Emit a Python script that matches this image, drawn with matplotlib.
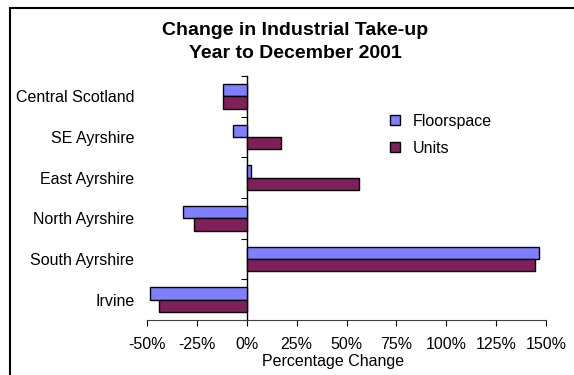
import matplotlib
matplotlib.use("Agg")
import matplotlib.pyplot as plt
from matplotlib.patches import Rectangle
from matplotlib.ticker import FuncFormatter
import numpy as np

plt.rcParams['font.family'] = ['Liberation Sans', 'DejaVu Sans']

categories = ["Central Scotland", "SE Ayrshire", "East Ayrshire",
              "North Ayrshire", "South Ayrshire", "Irvine"]
floorspace = [-12, -7, 2.3, -32, 146.7, -48.3]
units = [-12, 17.4, 56.5, -26.5, 144.5, -44]
xticks = [-50, -25, 0, 25, 50, 75, 100, 125, 150]

W, H = 574, 375
fig = plt.figure(figsize=(W / 100, H / 100), dpi=100)
ax = fig.add_axes([147 / W, (375 - 320) / H, (546 - 147) / W, (320 - 76) / H])

n = len(categories)
pos = np.arange(n)[::-1]  # first category at top
bh = 0.3
ax.barh(pos + bh / 2, floorspace, height=bh, color="#8080FF", edgecolor="black",
        linewidth=1.0, label="Floorspace")
ax.barh(pos - bh / 2, units, height=bh, color="#80205A", edgecolor="black",
        linewidth=1.0, label="Units")

ax.set_xlim(-50, 150)
ax.set_ylim(-0.5, n - 0.5)
ax.set_xticks(xticks)
ax.xaxis.set_major_formatter(FuncFormatter(lambda v, p: f"{int(v)}%"))
ax.set_yticks(pos)
ax.set_yticklabels(categories)
ax.tick_params(axis="y", length=0, pad=9, labelsize=11.5)
ax.tick_params(axis="x", length=4, width=0.8, direction="out", pad=8, labelsize=11.5)
for s in ["top", "right", "left"]:
    ax.spines[s].set_visible(False)
ax.spines["bottom"].set_linewidth(0.8)
ax.spines["bottom"].set_color("#404040")

# zero axis with category boundary ticks
sec = ax.secondary_yaxis(0, transform=ax.transData)
sec.set_yticks(np.arange(n + 1) - 0.5)
sec.set_yticklabels([])
sec.tick_params(axis="y", length=4, width=0.8, direction="out")
sec.spines["left"].set_linewidth(1.0)

ax.set_xlabel("Percentage Change", fontsize=11.5)
ax.xaxis.set_label_coords((333 - 147) / (546 - 147), -(354 - 320) / (320 - 76))

fig.text(295 / W, 1 - 42 / H, "Change in Industrial Take-up\nYear to December 2001",
         ha="center", va="center", fontsize=14, fontweight="bold", linespacing=1.4)

leg = ax.legend(loc="upper left", bbox_to_anchor=(390 / W, 1 - 114 / H),
                bbox_transform=fig.transFigure, frameon=False, fontsize=11.5,
                handlelength=0.6, handleheight=0.6, handletextpad=0.8,
                labelspacing=0.75, borderaxespad=0, borderpad=0)

fig.add_artist(Rectangle((10 / W, -0.1), 1.2, 1.1 - 8 / H, transform=fig.transFigure,
                         fill=False, edgecolor="black", linewidth=1.5))

fig.savefig("out.png", dpi=100)
